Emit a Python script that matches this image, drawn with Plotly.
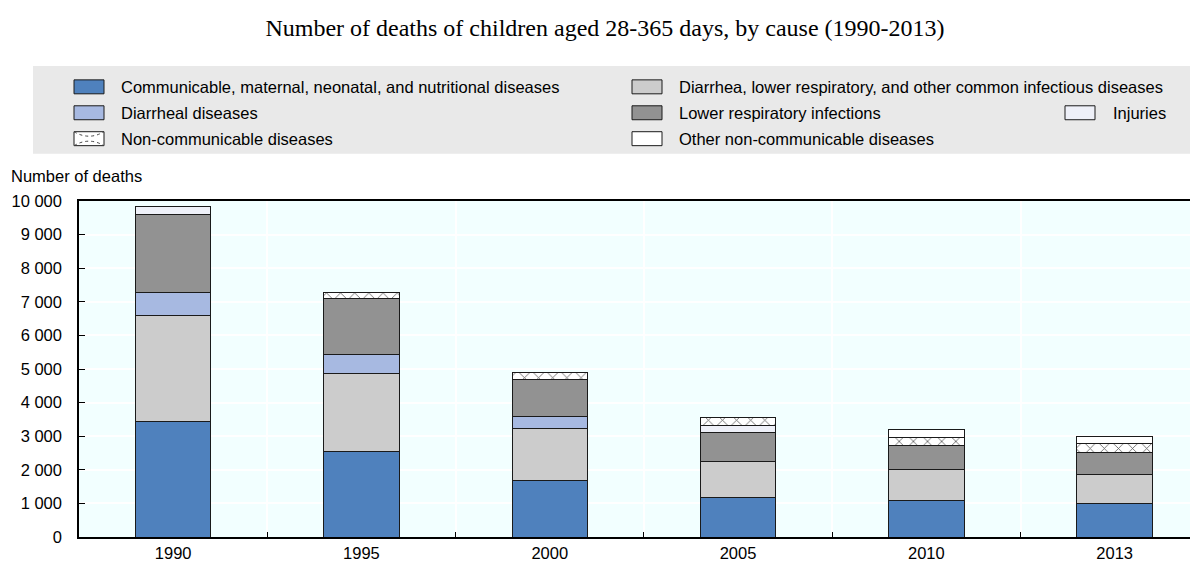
import plotly.graph_objects as go

years = ["1990", "1995", "2000", "2005", "2010", "2013"]
communicable = [3430, 2530, 1680, 1180, 1080, 995]
diarrhea_lri_other = [3150, 2345, 1560, 1080, 940, 860]
diarrheal = [710, 545, 335, None, None, None]
lower_resp = [2295, 1670, 1105, 840, 710, 650]
injuries = [240, None, None, 230, None, None]
non_communicable = [None, 200, 210, 225, 245, 275]
other_non_communicable = [None, None, None, None, 215, 200]

# the page has an 8px body margin, so the figure is drawn 8px smaller
OFF = 8
W, H = 1198 - OFF, 562 - OFF
# plot area in page pixels
L, R, T, B = 79, 1198, 200.5, 537.5


def px(x):
    return (x - L) / (R - L)


def py(y):
    return (B - y) / (B - T)


FONT = "Arial, Liberation Sans, sans-serif"
FS = 16.5
EDGE = "#1a1a1a"

# name, values, colour, hatched?, legend column, legend row
series = [
    ("Communicable, maternal, neonatal, and nutritional diseases", communicable, "#4f81bd", False, 0, 0),
    ("Diarrhea, lower respiratory, and other common infectious diseases", diarrhea_lri_other, "#cccccc", False, 1, 0),
    ("Diarrheal diseases", diarrheal, "#a7b9e1", False, 0, 1),
    ("Lower respiratory infections", lower_resp, "#929292", False, 1, 1),
    ("Injuries", injuries, "#eef0f8", False, 2, 1),
    ("Non-communicable diseases", non_communicable, "#ffffff", True, 0, 2),
    ("Other non-communicable diseases", other_non_communicable, "#ffffff", False, 1, 2),
]

fig = go.Figure()

for name, vals, color, hatched, _, _ in series:
    marker = dict(color=color, line=dict(color=EDGE, width=1))
    if hatched:
        marker["pattern"] = dict(shape="x", fgcolor="#555555", bgcolor="#ffffff",
                                 size=10, solidity=0.15, fillmode="replace")
    fig.add_trace(go.Bar(x=years, y=vals, name=name, marker=marker,
                         width=0.4, showlegend=False))

# legend drawn by hand to get the wide swatches in a 3-column grid
shapes = [dict(type="rect", xref="paper", yref="paper", x0=px(33), x1=px(1205),
               y0=py(153), y1=py(65), fillcolor="#e9e9e9", line_width=0, layer="below")]
annotations = []
col_sw = [74, 632, 1065]
col_tx = [119, 677, 1111]
row_y = [86, 112, 138]
for name, vals, color, hatched, col, row in series:
    x0, yc = col_sw[col], row_y[row]
    shapes.append(dict(type="rect", xref="paper", yref="paper",
                       x0=px(x0), x1=px(x0 + 30), y0=py(yc + 7), y1=py(yc - 7),
                       fillcolor=color, line=dict(color=EDGE, width=1)))
    if hatched:
        shapes.append(dict(type="path", xref="paper", yref="paper",
                           path=f"M {px(x0)},{py(yc + 7)} Q {px(x0 + 15)},{py(yc - 2)} {px(x0 + 30)},{py(yc + 7)} "
                                f"M {px(x0)},{py(yc - 7)} Q {px(x0 + 15)},{py(yc + 2)} {px(x0 + 30)},{py(yc - 7)}",
                           line=dict(color="#444444", width=1, dash="dot")))
    annotations.append(dict(text=name, xref="paper", yref="paper", x=px(col_tx[col]),
                            y=py(yc), xanchor="left", yanchor="middle", showarrow=False,
                            font=dict(family=FONT, size=FS, color="#000000")))

annotations.append(dict(text="Number of deaths", xref="paper", yref="paper", x=px(9), y=py(175),
                        xanchor="left", yanchor="middle", showarrow=False,
                        font=dict(family=FONT, size=FS, color="#000000")))

fig.update_layout(
    width=W, height=H,
    barmode="stack",
    separators=". ",
    margin=dict(l=L - OFF, r=0, t=T - OFF, b=562 - B, autoexpand=False),
    paper_bgcolor="#ffffff",
    plot_bgcolor="#f2ffff",
    title=dict(text="Number of deaths of children aged 28-365 days, by cause (1990-2013)",
               x=(605 - OFF) / W, xanchor="center", xref="container",
               y=1 - (28 - OFF) / H, yanchor="middle", yref="container",
               font=dict(family="Times New Roman, Liberation Serif, serif", size=24, color="#000000")),
    font=dict(family=FONT, color="#000000"),
    shapes=shapes,
    annotations=annotations,
)

fig.update_xaxes(type="category", range=[-0.5, -0.5 + (R - L) / 188.3],
                 showline=True, linecolor="#000000", linewidth=2, mirror=True,
                 ticks="inside", tickson="boundaries", ticklen=5, tickcolor="#000000",
                 showgrid=True, gridcolor="#ffffff", gridwidth=2,
                 tickfont=dict(size=FS))
fig.update_yaxes(range=[0, 10000], dtick=1000, tickformat=",d",
                 showline=True, linecolor="#000000", linewidth=1.5,
                 ticks="inside", ticklen=6, tickcolor="#000000",
                 showgrid=True, gridcolor="#ffffff", gridwidth=2, zeroline=False,
                 ticklabelstandoff=12, tickfont=dict(size=FS))

fig.write_html("out.html")
